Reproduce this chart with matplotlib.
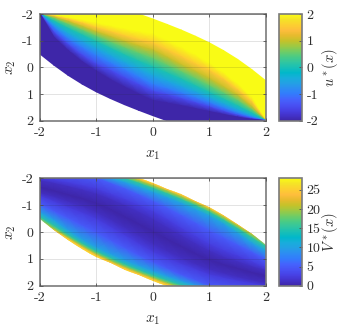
import numpy as np
import matplotlib
matplotlib.use('Agg')
import matplotlib.pyplot as plt
from matplotlib.colors import LinearSegmentedColormap
from matplotlib.patches import Polygon

plt.rcParams['font.family'] = ['cmr10', 'DejaVu Serif']
plt.rcParams['mathtext.fontset'] = 'cm'
plt.rcParams['axes.unicode_minus'] = False
plt.rcParams['axes.formatter.use_mathtext'] = True

# x2 position of each level along the columns x1
x1 = [-2, -1.75, -1.5, -1.25, -1, -.75, -.5, -.25, 0, .25, .5, .75, 1, 1.25, 1.5, 1.75, 2]
edge_top = [-2, -2, -2, -2, -2, -2, -2, -2, -1.81, -1.61, -1.4, -1.17, -.92, -.63, -.3, .08, .5]
edge_bot = [-.5, -.08, .3, .63, .92, 1.17, 1.4, 1.61, 1.81, 2, 2, 2, 2, 2, 2, 2, 2]

u_levels = [2, 2, 1.5, 1, .5, 0, -.5, -1, -1.5, -2, -2]
u_p20 = [-2, -1.95, -1.87, -1.77, -1.66, -1.55, -1.44, -1.34, -1.25, -1.01, -.75, -.47, -.15, .2, .62, 1.12, 2]
u_p15 = [-2, -1.92, -1.8, -1.65, -1.48, -1.33, -1.17, -1.03, -.9, -.65, -.4, -.12, .12, .45, .85, 1.3, 2]
u_p10 = [-2, -1.88, -1.72, -1.53, -1.33, -1.15, -.97, -.8, -.65, -.38, -.1, .15, .42, .73, 1.05, 1.47, 2]
u_p05 = [-2, -1.82, -1.6, -1.38, -1.15, -.93, -.72, -.52, -.32, -.07, .17, .43, .7, .97, 1.25, 1.6, 2]
u_00 = [-2, -1.72, -1.45, -1.2, -.95, -.7, -.45, -.22, 0, .22, .45, .7, .95, 1.2, 1.45, 1.72, 2]
u_m05 = [-2, -1.6, -1.25, -.97, -.7, -.43, -.17, .07, .32, .52, .72, .93, 1.15, 1.38, 1.6, 1.82, 2]
u_m10 = [-2, -1.47, -1.05, -.73, -.42, -.15, .1, .38, .65, .8, .97, 1.15, 1.33, 1.53, 1.72, 1.88, 2]
u_m15 = [-2, -1.3, -.85, -.45, -.12, .12, .4, .65, .9, 1.03, 1.17, 1.33, 1.48, 1.65, 1.8, 1.92, 2]
u_m20 = [-2, -1.12, -.62, -.2, .15, .47, .75, 1.01, 1.25, 1.34, 1.44, 1.55, 1.66, 1.77, 1.87, 1.95, 2]

v_levels = [28, 24, 20, 15, 10, 5, 2.5, 1, 0, 1, 2.5, 5, 10, 15, 20, 24, 28]
v_up28 = [-2.92, -2.86, -2.78, -2.68, -2.56, -2.42, -2.26, -2.08, -1.89, -1.69, -1.48, -1.25, -1, -.71, -.38, -.05, .2]
v_up24 = [-2.81, -2.75, -2.67, -2.57, -2.45, -2.31, -2.15, -1.97, -1.78, -1.58, -1.37, -1.14, -.89, -.6, -.27, .05, .32]
v_up20 = [-2.75, -2.69, -2.61, -2.51, -2.39, -2.25, -2.09, -1.91, -1.72, -1.52, -1.31, -1.08, -.83, -.54, -.22, .1, .42]
v_up15 = [-2.65, -2.59, -2.51, -2.41, -2.29, -2.15, -1.99, -1.81, -1.62, -1.42, -1.21, -.98, -.73, -.44, -.12, .22, .55]
v_up10 = [-2.5, -2.44, -2.36, -2.26, -2.14, -2, -1.84, -1.66, -1.47, -1.27, -1.06, -.83, -.58, -.29, .05, .42, .72]
v_up5 = [-2.38, -2.3, -2.22, -2.12, -2, -1.8, -1.6, -1.37, -1.13, -.88, -.6, -.32, -.03, .23, .5, .76, 1.03]
v_up2 = [-2.02, -1.92, -1.83, -1.72, -1.6, -1.4, -1.2, -.98, -.75, -.45, -.13, .17, .47, .7, .9, 1.12, 1.33]
v_up1 = [-1.9, -1.8, -1.68, -1.55, -1.4, -1.2, -.97, -.72, -.45, -.15, .15, .45, .72, .95, 1.12, 1.3, 1.45]
v_min = [-1.65, -1.52, -1.37, -1.23, -1.05, -.82, -.55, -.28, 0, .28, .55, .82, 1.05, 1.23, 1.37, 1.52, 1.65]
v_dn1 = [-1.45, -1.3, -1.12, -.95, -.72, -.45, -.15, .15, .45, .72, .97, 1.2, 1.4, 1.55, 1.68, 1.8, 1.9]
v_dn2 = [-1.33, -1.12, -.9, -.7, -.47, -.17, .13, .45, .75, .98, 1.2, 1.4, 1.6, 1.72, 1.83, 1.92, 2.02]
v_dn5 = [-1.03, -.76, -.5, -.23, .03, .32, .6, .88, 1.13, 1.37, 1.6, 1.8, 2, 2.12, 2.22, 2.3, 2.38]
v_dn10 = [-.72, -.42, -.05, .29, .58, .83, 1.06, 1.27, 1.47, 1.66, 1.84, 2, 2.14, 2.26, 2.36, 2.44, 2.5]
v_dn15 = [-.55, -.22, .12, .44, .73, .98, 1.21, 1.42, 1.62, 1.81, 1.99, 2.15, 2.29, 2.41, 2.51, 2.59, 2.65]
v_dn20 = [-.42, -.1, .22, .54, .83, 1.08, 1.31, 1.52, 1.72, 1.91, 2.09, 2.25, 2.39, 2.51, 2.61, 2.69, 2.75]
v_dn24 = [-.32, -.05, .27, .6, .89, 1.14, 1.37, 1.58, 1.78, 1.97, 2.15, 2.31, 2.45, 2.57, 2.67, 2.75, 2.81]
v_dn28 = [-.2, .05, .38, .71, 1, 1.25, 1.48, 1.69, 1.89, 2.08, 2.26, 2.42, 2.56, 2.68, 2.78, 2.86, 2.92]

ticks = [-2, -1, 0, 1, 2]
tick_labels = ['-2', '-1', '0', '1', '2']
v_ticks = [0, 5, 10, 15, 20, 25]

parula = LinearSegmentedColormap.from_list('parula', [
    (.2422, .1504, .6603), (.2647, .1978, .7952), (.2783, .2559, .8991), (.2810, .3228, .9579),
    (.2699, .3892, .9906), (.1963, .4847, .9892), (.1764, .5499, .9520), (.1380, .6276, .8973),
    (.0952, .6798, .8598), (.0036, .7203, .7917), (.0964, .7500, .7120), (.1938, .7758, .6251),
    (.2906, .7973, .5188), (.4456, .8024, .3909), (.6174, .7876, .2612), (.7738, .7598, .1646),
    (.9035, .7330, .1774), (.9956, .7434, .2371), (.9892, .8136, .1885), (.9610, .8890, .1537),
    (.9769, .9839, .0805)], N=256)

W, H = 341, 327
edge_col = '#7a7a7a'
text_col = '#303030'
fig = plt.figure(figsize=(W / 100, H / 100), dpi=100)


def make_axes(top, bottom, left=40, right=265.7):
    return fig.add_axes([left / W, 1 - bottom / H, (right - left) / W, (bottom - top) / H])


def panel(top, bottom, rows, levels, vmin, vmax, clip, cb_ticks, cb_labels, label):
    ax = make_axes(top, bottom)
    X = np.tile(np.array(x1, dtype=float), (len(rows), 1))
    Y = np.array(rows, dtype=float)
    C = np.tile(np.array(levels, dtype=float)[:, None], (1, len(x1)))
    mesh = ax.pcolormesh(X, Y, C, shading='gouraud', cmap=parula, vmin=vmin, vmax=vmax, zorder=1)
    if clip:
        verts = list(zip(x1, edge_top)) + list(zip(x1[::-1], edge_bot[::-1]))
        mesh.set_clip_path(Polygon(verts, transform=ax.transData))
    ax.set_xlim(-2, 2)
    ax.set_ylim(2, -2)
    ax.set_xticks(ticks, tick_labels)
    ax.set_yticks(ticks, tick_labels)
    ax.tick_params(top=True, right=True)
    ax.grid(True, color='#262626', alpha=.13, linewidth=.7)
    ax.set_axisbelow(False)
    for s in ax.spines.values():
        s.set_color(edge_col)
        s.set_linewidth(1.2)
    ax.tick_params(direction='in', length=2.3, width=.6, color='#505050', labelsize=10,
                   labelcolor=text_col, pad=4.5)
    ax.set_xlabel('$x_1$', fontsize=11, color=text_col, labelpad=6.5)
    ax.set_ylabel('$x_2$', fontsize=11, color=text_col, labelpad=3)

    cax = make_axes(top, bottom, 279.3, 302.3)
    cb = fig.colorbar(mesh, cax=cax)
    cb.set_ticks(cb_ticks, labels=cb_labels)
    cb.outline.set_edgecolor(edge_col)
    cb.outline.set_linewidth(1.2)
    cax.tick_params(direction='in', length=2.3, width=.6, color='#505050', labelsize=10,
                    labelcolor=text_col, pad=3)
    fig.text(330 / W, 1 - (top + bottom) / 2 / H, label, fontsize=10.5, color=text_col,
             rotation=90, ha='center', va='center')


panel(14, 120.7,
      [edge_top, u_p20, u_p15, u_p10, u_p05, u_00, u_m05, u_m10, u_m15, u_m20, edge_bot],
      u_levels, -2, 2, False, ticks, tick_labels, '$u^*(x)$')
panel(178.3, 285.7,
      [v_up28, v_up24, v_up20, v_up15, v_up10, v_up5, v_up2, v_up1, v_min, v_dn1, v_dn2, v_dn5, v_dn10, v_dn15, v_dn20, v_dn24, v_dn28],
      v_levels, 0, 28, True, v_ticks, [str(t) for t in v_ticks], '$V^*(x)$')

fig.savefig('out.png', dpi=100)
